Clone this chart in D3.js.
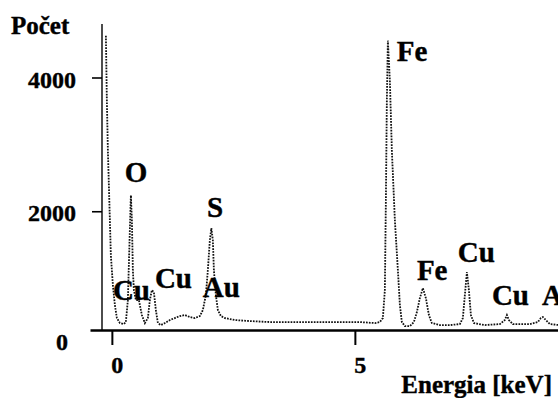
<!DOCTYPE html>
<html>
  <head>
    <meta charset="utf-8" />
    <title>EDS spektrum</title>
    <script src="https://d3js.org/d3.v7.min.js"></script>
    <style>
        body {margin: 0; background: #fff;}
        text {font-family: "Liberation Serif", "Times New Roman", serif; font-weight: bold; fill: #000; stroke: #000; stroke-width: 0.4px;}
    </style>
  </head>
  <body>

    <svg id="chart" width="558" height="398"></svg>

    <script>

        // spectrum: energy [keV] and counts
        var energy = [-0.123, -0.103, -0.082, -0.041, -0.021, 0.021, 0.062, 0.103, 0.165, 0.247,
                      0.288, 0.329, 0.370, 0.391, 0.412, 0.432, 0.453, 0.494, 0.556, 0.617,
                      0.679, 0.741, 0.782, 0.823, 0.864, 0.905, 0.947, 1.008, 1.091, 1.193,
                      1.296, 1.399, 1.502, 1.605, 1.708, 1.811, 1.872, 1.934, 1.975, 2.016,
                      2.047, 2.078, 2.099, 2.140, 2.181, 2.243, 2.325, 2.531, 2.840, 3.251,
                      3.868, 4.486, 5.103, 5.412, 5.514, 5.576, 5.617, 5.638, 5.658, 5.679,
                      5.720, 5.761, 5.823, 5.885, 5.926, 5.967, 6.029, 6.132, 6.214, 6.276,
                      6.337, 6.399, 6.461, 6.523, 6.584, 6.749, 6.955, 7.160, 7.222, 7.263,
                      7.305, 7.346, 7.387, 7.449, 7.675, 7.984, 8.086, 8.128, 8.169, 8.251,
                      8.601, 8.765, 8.827, 8.868, 8.930, 9.012, 9.200];

        var counts = [4625, 3655, 2909, 1865, 1343, 895, 597, 403, 328, 313,
                      343, 671, 1716, 2238, 1865, 1119, 821, 671, 671, 448,
                      328, 403, 671, 821, 791, 522, 328, 298, 328, 373,
                      403, 433, 448, 418, 403, 433, 522, 746, 1119, 1567,
                      1746, 1567, 1119, 746, 522, 433, 403, 373, 358, 343,
                      343, 343, 343, 328, 343, 403, 821, 2163, 3655, 4551,
                      3954, 2909, 1865, 1119, 597, 343, 283, 283, 343, 492,
                      701, 850, 701, 448, 328, 298, 298, 313, 403, 746,
                      1089, 821, 448, 328, 298, 313, 373, 448, 373, 313,
                      313, 343, 403, 418, 373, 313, 298];

        // peak labels, anchored at their left/baseline corner in data units
        var peakNames  = ["O", "Cu", "Cu", "S", "Au", "Fe", "Fe", "Cu", "Cu", "Au"];
        var peakKeV    = [0.267, 0.021, 0.885, 1.955, 1.872, 5.864, 6.276, 7.119, 7.819, 8.848];
        var peakCounts = [2437, 673, 852, 1914, 718, 4246, 972, 1241, 598, 598];

        var xTicks = [0, 5];
        var yTicks = [0, 2000, 4000];

        var svg = d3.select("#chart");

        var x = d3.scaleLinear().domain([-0.45, 9.2]).range([90, 559]);
        var y = d3.scaleLinear().domain([0, 4800]).range([345, 24]);
        var axisBase = 224;   // counts level where the energy axis is drawn

        // y axis
        var yAxis = svg.append("g")
                .attr("transform", "translate(102,0)")
                .call(d3.axisLeft(y).tickValues(yTicks).tickSize(10).tickPadding(16).tickFormat(d3.format("d")));

        yAxis.select(".domain").remove();
        yAxis.selectAll("line").attr("stroke", "#000").attr("stroke-width", 1.6);
        yAxis.selectAll("text").style("font-size", "24px").attr("dy", "0.4em");
        yAxis.selectAll(".tick").filter(function(d){ return d === 0; })
             .call(function(t){
                t.select("line").remove();
                t.select("text").attr("x", -34).attr("dy", "0.2em");
             });

        svg.append("line")
            .attr("x1", 102).attr("x2", 102)
            .attr("y1", y(axisBase)).attr("y2", y(4800))
            .attr("stroke", "#000").attr("stroke-width", 1.4);

        // x axis
        var xAxis = svg.append("g")
                .attr("transform", "translate(0," + y(axisBase) + ")")
                .call(d3.axisBottom(x).tickValues(xTicks).tickSize(15).tickSizeOuter(0).tickPadding(11));

        xAxis.select(".domain").attr("stroke", "#000").attr("stroke-width", 2.4);
        xAxis.selectAll("line").attr("stroke", "#000").attr("stroke-width", 2);
        xAxis.selectAll("text").style("font-size", "24px").attr("dx", "0.2em");

        // spectrum
        var points = energy.map(function(e, i){ return [e, counts[i]]; });

        svg.append("path")
            .datum(points)
            .attr("fill", "none")
            .attr("stroke", "#111")
            .attr("stroke-width", 1.8)
            .attr("stroke-dasharray", "1.7 1.2")
            .attr("d", d3.line()
                .x(function(d){ return x(d[0]); })
                .y(function(d){ return y(d[1]); }));

        // peak labels
        svg.selectAll(".peak")
            .data(peakNames)
            .enter().append("text")
            .attr("class", "peak")
            .attr("x", function(d, i){ return x(peakKeV[i]); })
            .attr("y", function(d, i){ return y(peakCounts[i]); })
            .style("font-size", "29px")
            .text(function(d){ return d; });

        // axis titles
        svg.append("text")
            .attr("x", 11).attr("y", 34)
            .style("font-size", "25px")
            .text("Počet");

        svg.append("text")
            .attr("x", 552).attr("y", 393)
            .attr("text-anchor", "end")
            .style("font-size", "25px")
            .text("Energia [keV]");

    </script>

  </body>
</html>
